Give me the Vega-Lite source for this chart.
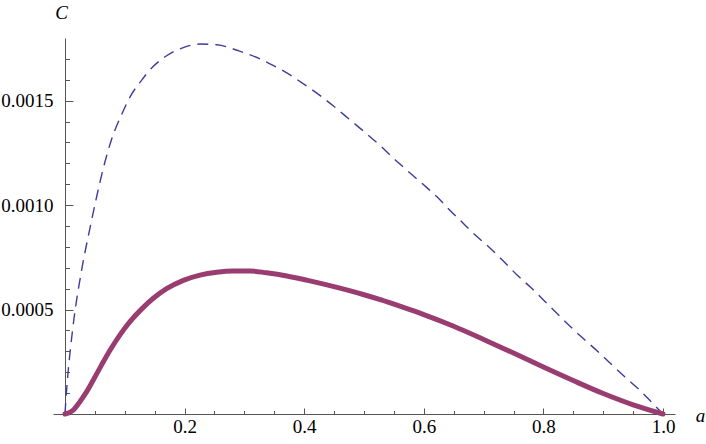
{
  "$schema": "https://vega.github.io/schema/vega-lite/v6.json",
  "width": 622,
  "height": 376,
  "autosize": "none",
  "padding": {"left": 53, "top": 38, "right": 31, "bottom": 30},
  "background": "white",
  "config": {"view": {"stroke": null}, "font": "Liberation Serif"},
  "datasets": {
    "dashed": [
      {"a": 0, "C": 0},
      {"a": 0.0012, "C": 0.000053},
      {"a": 0.0045, "C": 0.000177},
      {"a": 0.0095, "C": 0.000321},
      {"a": 0.015, "C": 0.000455},
      {"a": 0.027, "C": 0.000675},
      {"a": 0.0418, "C": 0.00089},
      {"a": 0.053, "C": 0.00104},
      {"a": 0.064, "C": 0.001175},
      {"a": 0.078, "C": 0.001315},
      {"a": 0.0959, "C": 0.001441},
      {"a": 0.11, "C": 0.001524},
      {"a": 0.128, "C": 0.001597},
      {"a": 0.1466, "C": 0.001661},
      {"a": 0.17, "C": 0.001715},
      {"a": 0.199, "C": 0.001755},
      {"a": 0.2258, "C": 0.001771},
      {"a": 0.2536, "C": 0.001768},
      {"a": 0.291, "C": 0.001738},
      {"a": 0.326, "C": 0.0017},
      {"a": 0.348, "C": 0.001669},
      {"a": 0.373, "C": 0.001629},
      {"a": 0.3985, "C": 0.001581},
      {"a": 0.425, "C": 0.001528},
      {"a": 0.45, "C": 0.001472},
      {"a": 0.475, "C": 0.001412},
      {"a": 0.5, "C": 0.001352},
      {"a": 0.527, "C": 0.001285},
      {"a": 0.549, "C": 0.001225},
      {"a": 0.571, "C": 0.001169},
      {"a": 0.5965, "C": 0.001105},
      {"a": 0.6216, "C": 0.001041},
      {"a": 0.641, "C": 0.000983},
      {"a": 0.663, "C": 0.000921},
      {"a": 0.6856, "C": 0.000858},
      {"a": 0.711, "C": 0.000794},
      {"a": 0.733, "C": 0.000732},
      {"a": 0.755, "C": 0.000668},
      {"a": 0.778, "C": 0.000608},
      {"a": 0.8, "C": 0.000546},
      {"a": 0.822, "C": 0.000484},
      {"a": 0.8445, "C": 0.00042},
      {"a": 0.8667, "C": 0.000361},
      {"a": 0.8918, "C": 0.000297},
      {"a": 0.914, "C": 0.000237},
      {"a": 0.9365, "C": 0.000177},
      {"a": 0.9615, "C": 0.000113},
      {"a": 0.9827, "C": 0.000051},
      {"a": 1.0, "C": 0}
    ],
    "solid": [
      {"a": 0, "C": 0},
      {"a": 0.0139, "C": 0.000019},
      {"a": 0.025, "C": 0.000059},
      {"a": 0.0363, "C": 0.000107},
      {"a": 0.0474, "C": 0.000163},
      {"a": 0.0613, "C": 0.000235},
      {"a": 0.0753, "C": 0.000305},
      {"a": 0.092, "C": 0.000379},
      {"a": 0.1087, "C": 0.000442},
      {"a": 0.128, "C": 0.000502},
      {"a": 0.1477, "C": 0.000554},
      {"a": 0.17, "C": 0.0006},
      {"a": 0.198, "C": 0.00064},
      {"a": 0.2258, "C": 0.000665},
      {"a": 0.2536, "C": 0.000679},
      {"a": 0.2815, "C": 0.000685},
      {"a": 0.309, "C": 0.000685},
      {"a": 0.337, "C": 0.000676},
      {"a": 0.371, "C": 0.000661},
      {"a": 0.404, "C": 0.000641},
      {"a": 0.438, "C": 0.000618},
      {"a": 0.471, "C": 0.000594},
      {"a": 0.5, "C": 0.000571},
      {"a": 0.53, "C": 0.000545},
      {"a": 0.56, "C": 0.000516},
      {"a": 0.6, "C": 0.000476},
      {"a": 0.65, "C": 0.00042},
      {"a": 0.7, "C": 0.000357},
      {"a": 0.75, "C": 0.000292},
      {"a": 0.8, "C": 0.000225},
      {"a": 0.85, "C": 0.00016},
      {"a": 0.9, "C": 0.000098},
      {"a": 0.95, "C": 0.000044},
      {"a": 1.0, "C": 0}
    ]
  },
  "layer": [
    {
      "data": {"name": "dashed"},
      "mark": {"type": "line", "color": "#3d3d99", "strokeWidth": 1.4, "strokeDash": [11, 7], "interpolate": "monotone"},
      "encoding": {
        "x": {"field": "a", "type": "quantitative", "scale": {"domain": [-0.02, 1.02], "nice": false, "zero": false},
          "axis": {
            "orient": "bottom",
            "values": [0.05,0.1,0.15,0.25,0.3,0.35,0.45,0.5,0.55,0.65,0.7,0.75,0.85,0.9,0.95],
            "grid": false, "domain": false, "labels": false, "title": null,
            "tickColor": "#555", "tickWidth": 1, "tickSize": -3.5
          }},
        "y": {"field": "C", "type": "quantitative", "scale": {"domain": [0, 0.0018], "nice": false},
          "axis": {
            "orient": "left",
            "offset": -12,
            "values": [0.0001,0.0002,0.0003,0.0004,0.0006,0.0007,0.0008,0.0009,0.0011,0.0012,0.0013,0.0014,0.0016,0.0017],
            "grid": false, "domain": false, "labels": false, "title": null,
            "tickColor": "#555", "tickWidth": 1, "tickSize": -4.5
          }}
      }
    },
    {
      "data": {"name": "solid"},
      "mark": {"type": "line", "color": "#993d71", "strokeWidth": 5, "interpolate": "monotone", "strokeCap": "round"},
      "encoding": {
        "x": {"field": "a", "type": "quantitative",
          "axis": {
            "orient": "bottom",
            "values": [0.2, 0.4, 0.6, 0.8, 1.0],
            "format": ".1f",
            "grid": false,
            "domainColor": "#555", "tickColor": "#555", "tickWidth": 1, "domainWidth": 1, "tickSize": -6,
            "labelFont": "Liberation Serif", "labelFontSize": 19, "labelColor": "black",
            "labelPadding": 9, "labelFlush": false, "labelOverlap": false, "labelBound": false,
            "title": "a", "titleFont": "Liberation Serif", "titleFontStyle": "italic", "titleFontWeight": "normal",
            "titleFontSize": 19, "titleColor": "black", "titleX": 647, "titleY": 7, "titleAlign": "center", "titleBaseline": "alphabetic", "titleAngle": 0
          }},
        "y": {"field": "C", "type": "quantitative",
          "axis": {
            "orient": "left",
            "offset": -12,
            "values": [0.0005, 0.001, 0.0015],
            "format": ".4f",
            "grid": false,
            "domainColor": "#555", "tickColor": "#555", "tickWidth": 1, "domainWidth": 1, "tickSize": -8,
            "labelFont": "Liberation Serif", "labelFontSize": 19, "labelColor": "black",
            "labelPadding": 20, "labelFlush": false, "labelOverlap": false, "labelBound": false,
            "title": "C", "titleFont": "Liberation Serif", "titleFontStyle": "italic", "titleFontWeight": "normal",
            "titleFontSize": 19, "titleColor": "black", "titleX": -4, "titleY": -20, "titleAlign": "center", "titleBaseline": "alphabetic", "titleAngle": 0
          }}
      }
    }
  ],
  "resolve": {"axis": {"x": "independent", "y": "independent"}}
}
